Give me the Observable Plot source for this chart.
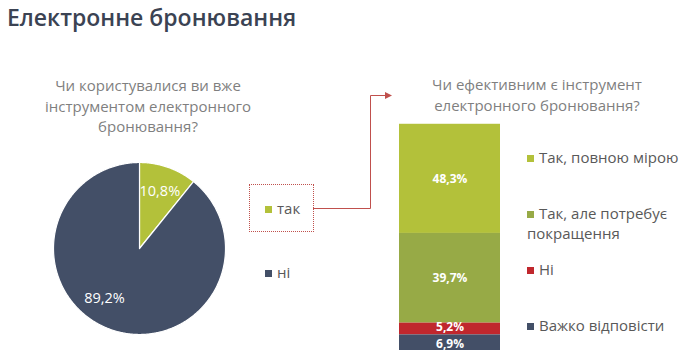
<!DOCTYPE html>
<html>
<head>
<meta charset="utf-8">
<script src="https://cdn.jsdelivr.net/npm/d3@7"></script>
<script src="https://cdn.jsdelivr.net/npm/@observablehq/plot@0.6"></script>
<style>
  html, body { margin: 0; padding: 0; background: #fff; }
  body { font-family: "Open Sans", "Noto Sans", sans-serif; }
  #root { position: relative; width: 690px; height: 358px; overflow: hidden; }
  .abs { position: absolute; }
  .title { left: 7px; top: 1px; font-size: 23px; font-weight: 600; color: #3b4353; line-height: 32px; white-space: nowrap; }
  .q { font-size: 15px; color: #7f7f7f; text-align: center; line-height: 20.5px; }
  .leg { font-size: 15px; color: #595959; line-height: 20px; white-space: nowrap; }
  .sw { display: inline-block; width: 7px; height: 7px; margin-right: 5px; vertical-align: 1px; }
  .box { border: 1px dotted #c0504d; }
</style>
</head>
<body>
<div id="root"></div>
<script>
// ---- data ----
const pieCategories = ["так", "ні"];
const pieValues = [10.8, 89.2];
const pieLabels = ["10,8%", "89,2%"];
const pieColors = ["#b3c13a", "#434f67"];

const barCategories = ["Так, повною мірою", "Так, але потребує покращення", "Ні", "Важко відповісти"];
const barValues = [48.3, 39.7, 5.2, 6.9];
const barLabels = ["48,3%", "39,7%", "5,2%", "6,9%"];
const barColors = ["#b3c13a", "#97aa46", "#c0272d", "#434f67"];

const titleText = "Електронне бронювання";
const question1 = ["Чи користувалися ви вже", "інструментом електронного", "бронювання?"];
const question2 = ["Чи ефективним є інструмент", "електронного бронювання?"];

const root = document.getElementById("root");
function add(html, cls, style) {
  const d = document.createElement("div");
  d.className = "abs " + cls;
  Object.assign(d.style, style);
  d.innerHTML = html;
  root.appendChild(d);
  return d;
}

add(titleText, "title", {});
add(question1.join("<br>"), "q", {left: "28px", top: "75px", width: "240px"});
add(question2.join("<br>"), "q", {left: "417px", top: "74px", width: "240px"});

// ---- pie (wedges as filled polylines) ----
const R = 86;
const total = d3.sum(pieValues);
const piePts = [];
const pieText = [];
const labelAngleShift = [0, 0.27]; // radians, label placement tweak per slice
let acc = 0;
pieValues.forEach((v, i) => {
  const a0 = acc / total * 2 * Math.PI;
  const a1 = (acc + v) / total * 2 * Math.PI;
  acc += v;
  piePts.push({k: pieCategories[i], x: 0, y: 0});
  const n = Math.max(2, Math.ceil((a1 - a0) / 0.01));
  for (let j = 0; j <= n; j++) {
    const a = a0 + (a1 - a0) * j / n;
    piePts.push({k: pieCategories[i], x: R * Math.sin(a), y: R * Math.cos(a)});
  }
  piePts.push({k: pieCategories[i], x: 0, y: 0});
  const am = (a0 + a1) / 2 + labelAngleShift[i];
  pieText.push({k: pieCategories[i], label: pieLabels[i], x: 0.71 * R * Math.sin(am), y: 0.71 * R * Math.cos(am)});
});

const pie = Plot.plot({
  width: 176, height: 176,
  margin: 0,
  x: {domain: [-88, 88], axis: null},
  y: {domain: [-88, 88], axis: null},
  color: {domain: pieCategories, range: pieColors},
  style: {background: "transparent", fontFamily: "'Open Sans', sans-serif"},
  marks: [
    Plot.line(piePts, {x: "x", y: "y", z: "k", fill: "k", stroke: "white", strokeWidth: 1.2, strokeLinejoin: "round"}),
    Plot.text(pieText, {x: "x", y: "y", text: "label", fill: "white", fontSize: 14.5})
  ]
});
pie.style.position = "absolute";
pie.style.left = "51px";
pie.style.top = "160px";
root.appendChild(pie);

// ---- stacked bar ----
const barData = barCategories.map((c, i) => ({cat: c, value: barValues[i], label: barLabels[i], g: "all"}));
// label midpoints from the stacked values (first category on top)
let topAcc = d3.sum(barValues);
const barText = barData.map((d) => { const mid = topAcc - d.value / 2; topAcc -= d.value; return {...d, mid}; });
const labelNudge = [0, 0, -1.5, 1];
const bar = Plot.plot({
  width: 101, height: 234,
  marginTop: 0, marginLeft: 0, marginRight: 0, marginBottom: 8,
  x: {domain: ["all"], padding: 0, axis: null},
  y: {domain: [0, 100], axis: null},
  color: {domain: barCategories, range: barColors},
  style: {background: "transparent", fontFamily: "'Open Sans', sans-serif", overflow: "visible"},
  marks: [
    Plot.barY(barData, Plot.stackY({reverse: true}, {x: "g", y: "value", fill: "cat", order: null})),
    ...barText.map((d, i) => Plot.text([d], {x: "g", y: "mid", text: "label", fill: "white", fontSize: 12, fontWeight: "bold", dy: labelNudge[i]}))
  ]
});
bar.style.position = "absolute";
bar.style.left = "399px";
bar.style.top = "124px";
root.appendChild(bar);

// ---- middle legend with dotted box and connector ----
add("", "box", {left: "249px", top: "184px", width: "63px", height: "46px"});
add(`<span class="sw" style="background:${pieColors[0]}"></span>${pieCategories[0]}`, "leg", {left: "265px", top: "198px"});
add(`<span class="sw" style="background:${pieColors[1]}"></span>${pieCategories[1]}`, "leg", {left: "265px", top: "262px"});

const ns = "http://www.w3.org/2000/svg";
const conn = document.createElementNS(ns, "svg");
conn.setAttribute("width", 690); conn.setAttribute("height", 358);
conn.style.position = "absolute"; conn.style.left = "0"; conn.style.top = "0"; conn.style.pointerEvents = "none";
conn.innerHTML = `<path d="M313,208.5 H370.5 V95.5 H386" fill="none" stroke="#c0504d" stroke-width="1"/>
<path d="M385,92 L392,95.5 L385,99 Z" fill="#c0504d"/>`;
root.appendChild(conn);

// ---- right legend ----
const legTops = [147, 203, 259, 315];
const legHtml = ["Так, повною мірою", "Так, але потребує<br>покращення", "Ні", "Важко відповісти"];
barCategories.forEach((c, i) => {
  add(`<span class="sw" style="background:${barColors[i]}"></span>${legHtml[i]}`, "leg", {left: "527px", top: legTops[i] + "px"});
});
</script>
</body>
</html>
